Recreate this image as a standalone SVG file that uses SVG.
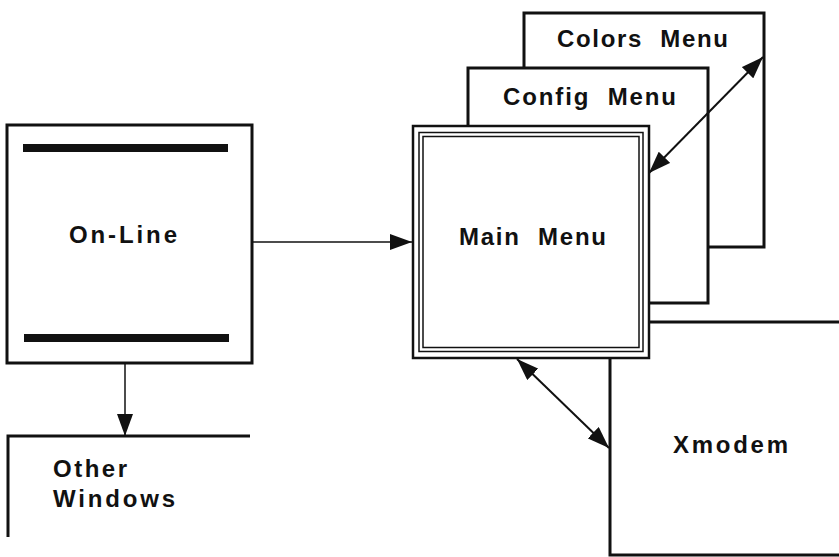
<svg xmlns="http://www.w3.org/2000/svg" width="839" height="557" viewBox="0 0 839 557">
  <style>
    .box { fill: #fff; stroke: #111; stroke-width: 3; }
    .open { fill: none; stroke: #111; stroke-width: 3; }
    .thin { fill: none; stroke: #111; stroke-width: 1.5; }
    .bar { stroke: #111; stroke-width: 8; }
    .link { stroke: #111; stroke-width: 2; fill: none; }
    .label { font-family: "Liberation Sans", Arial, sans-serif; font-weight: bold; font-size: 24px; fill: #111; }
    .wide { word-spacing: 9px; }
  </style>
  <defs>
    <marker id="head" viewBox="0 0 22 16" refX="22" refY="8" markerWidth="22" markerHeight="16" markerUnits="userSpaceOnUse" orient="auto-start-reverse">
      <path d="M0,0 L22,8 L0,16 Z" fill="#111"/>
    </marker>
  </defs>

  <g id="xmodem">
    <rect class="box" x="610" y="322" width="260" height="233"/>
    <text class="label" x="673" y="453" textLength="115" lengthAdjust="spacing">Xmodem</text>
  </g>

  <g id="colors-menu">
    <rect class="box" x="524" y="13" width="240" height="234"/>
    <text class="label wide" x="557" y="47" textLength="171" lengthAdjust="spacing">Colors Menu</text>
  </g>

  <g id="config-menu">
    <rect class="box" x="468" y="68" width="240" height="235"/>
    <text class="label wide" x="503" y="105" textLength="173" lengthAdjust="spacing">Config Menu</text>
  </g>

  <g id="main-menu">
    <rect class="box" x="413" y="126" width="236" height="232" style="stroke-width:2.5"/>
    <rect class="thin" x="419" y="132.5" width="224" height="219"/>
    <rect class="thin" x="423" y="136.5" width="216" height="211"/>
    <text class="label wide" x="459" y="245" textLength="147" lengthAdjust="spacing">Main Menu</text>
  </g>

  <g id="on-line">
    <rect class="box" x="7" y="125" width="245" height="238"/>
    <line class="bar" x1="23" y1="148" x2="228" y2="148"/>
    <line class="bar" x1="24" y1="338" x2="229" y2="338"/>
    <text class="label" x="69" y="243" textLength="108" lengthAdjust="spacing">On-Line</text>
  </g>

  <g id="other-windows">
    <path class="open" d="M8,537 V436 H250"/>
    <text class="label" x="53" y="477" textLength="74" lengthAdjust="spacing">Other</text>
    <text class="label" x="53" y="507" textLength="122" lengthAdjust="spacing">Windows</text>
  </g>

  <g id="connectors">
    <line class="link" x1="252" y1="242" x2="412" y2="242" style="stroke-width:1.5" marker-end="url(#head)"/>
    <line class="link" x1="125" y1="363" x2="125" y2="436" style="stroke-width:1.5" marker-end="url(#head)"/>
    <line class="link" x1="649" y1="173" x2="763" y2="57" marker-start="url(#head)" marker-end="url(#head)"/>
    <line class="link" x1="517" y1="359" x2="609" y2="448" marker-start="url(#head)" marker-end="url(#head)"/>
  </g>
</svg>
